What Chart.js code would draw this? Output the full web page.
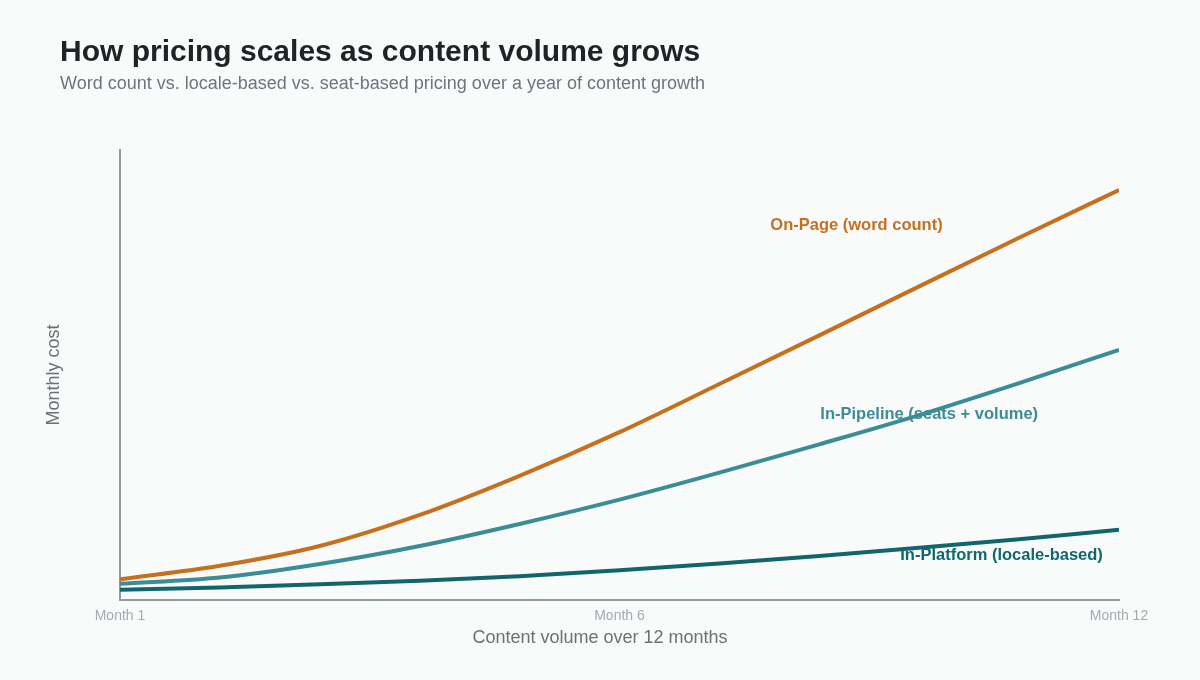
<!DOCTYPE html>
<html>
<head>
<meta charset="utf-8">
<script src="https://cdn.jsdelivr.net/npm/chart.js@4.4.1/dist/chart.umd.min.js"></script>
<style>
	body { margin: 0; background: #f9fbfb; font-family: "Liberation Sans", Arial, sans-serif; }
	#wrap { position: relative; width: 1200px; height: 680px; }
	#wrap canvas { position: absolute; left: 0; top: 0; }
	.title { position: absolute; left: 60px; top: 36px; margin: 0; font-size: 30px; font-weight: bold; color: #1f2326; line-height: 1; }
	.subtitle { position: absolute; left: 60px; top: 74px; margin: 0; font-size: 18px; color: #6c757c; line-height: 1; }
</style>
</head>
<body>
<div id="wrap">
	<canvas id="pricing_chart" width="1200" height="680"></canvas>
	<h1 class="title">How pricing scales as content volume grows</h1>
	<p class="subtitle">Word count vs. locale-based vs. seat-based pricing over a year of content growth</p>
</div>
<script>
// position along the 12 months (0 = Month 1, 100 = Month 12)
const volume = [0, 10, 20, 30, 40, 50, 60, 70, 80, 90, 100];

// relative monthly cost, no units on the original
const onPage = [4.6, 7.6, 12.0, 18.9, 27.6, 37.3, 48.0, 58.8, 69.7, 80.5, 91.1];
const inPipeline = [3.6, 5.0, 8.0, 12.0, 16.9, 22.3, 28.3, 34.6, 41.1, 48.2, 55.6];
const inPlatform = [2.3, 2.8, 3.5, 4.3, 5.3, 6.6, 8.1, 9.8, 11.6, 13.5, 15.6];

const tickValues = [0, 50, 100];
const tickLabels = ['Month 1', 'Month 6', 'Month 12'];

const seriesNames = ['On-Page (word count)', 'In-Pipeline (seats + volume)', 'In-Platform (locale-based)'];
const seriesColors = ['#c4701e', '#3a8c95', '#10666b'];

// where each inline label sits, in data units
const labelAnchors = [
	{ x: 65.1, y: 83.2 },
	{ x: 70.1, y: 41.2 },
	{ x: 78.1, y: 9.8 }
];

const FONT = '"Liberation Sans", Arial, sans-serif';

function toPoints(values) {
	return values.map((v, i) => ({ x: volume[i], y: v }));
}

const inlineLabels = {
	id: 'inlineLabels',
	beforeDatasetsDraw(chart) {
		const ctx = chart.ctx;
		const xs = chart.scales.x;
		const ys = chart.scales.y;
		ctx.save();
		ctx.font = 'bold 16.5px ' + FONT;
		ctx.textAlign = 'left';
		ctx.textBaseline = 'middle';
		labelAnchors.forEach((a, i) => {
			ctx.fillStyle = seriesColors[i];
			ctx.fillText(seriesNames[i], xs.getPixelForValue(a.x), ys.getPixelForValue(a.y));
		});
		ctx.restore();
	},
	afterDraw(chart) {
		// x axis title is centred on the whole page, not on the plot area
		const ctx = chart.ctx;
		ctx.save();
		ctx.font = '18px ' + FONT;
		ctx.fillStyle = '#6a7177';
		ctx.textAlign = 'center';
		ctx.textBaseline = 'middle';
		ctx.fillText('Content volume over 12 months', chart.width / 2, 638);
		ctx.restore();
	}
};

const ctx = document.getElementById('pricing_chart').getContext('2d');
const datasets = [onPage, inPipeline, inPlatform].map((values, i) => ({
	label: seriesNames[i],
	data: toPoints(values),
	borderColor: seriesColors[i],
	borderWidth: 4,
	pointRadius: 0,
	fill: false,
	cubicInterpolationMode: 'monotone'
}));

const myChart = new Chart(ctx, {
	type: 'line',
	data: { datasets: datasets },
	plugins: [inlineLabels],
	options: {
		responsive: false,
		animation: false,
		layout: { padding: { top: 150, right: 81, left: 0, bottom: 0 } },
		plugins: {
			legend: { display: false },
			tooltip: { enabled: false }
		},
		scales: {
			x: {
				type: 'linear',
				min: 0,
				max: 100,
				afterFit: (scale) => { scale.height = 80; },
				afterBuildTicks: (scale) => { scale.ticks = tickValues.map(v => ({ value: v })); },
				grid: { display: false, drawTicks: false },
				border: { color: '#8f9aa2', width: 2 },
				ticks: {
					padding: 8,
					color: '#a2abb1',
					font: { size: 14, family: FONT },
					maxRotation: 0,
					callback: (value) => tickLabels[tickValues.indexOf(value)]
				}
			},
			y: {
				min: 0,
				max: 100,
				afterFit: (scale) => { scale.width = 120; },
				grid: { display: false, drawTicks: false },
				border: { color: '#8f9aa2', width: 2 },
				ticks: { display: false },
				title: {
					display: true,
					text: 'Monthly cost',
					color: '#6a7177',
					font: { size: 18, family: FONT },
					padding: { top: 43, bottom: 0 }
				}
			}
		}
	}
});
</script>
</body>
</html>
